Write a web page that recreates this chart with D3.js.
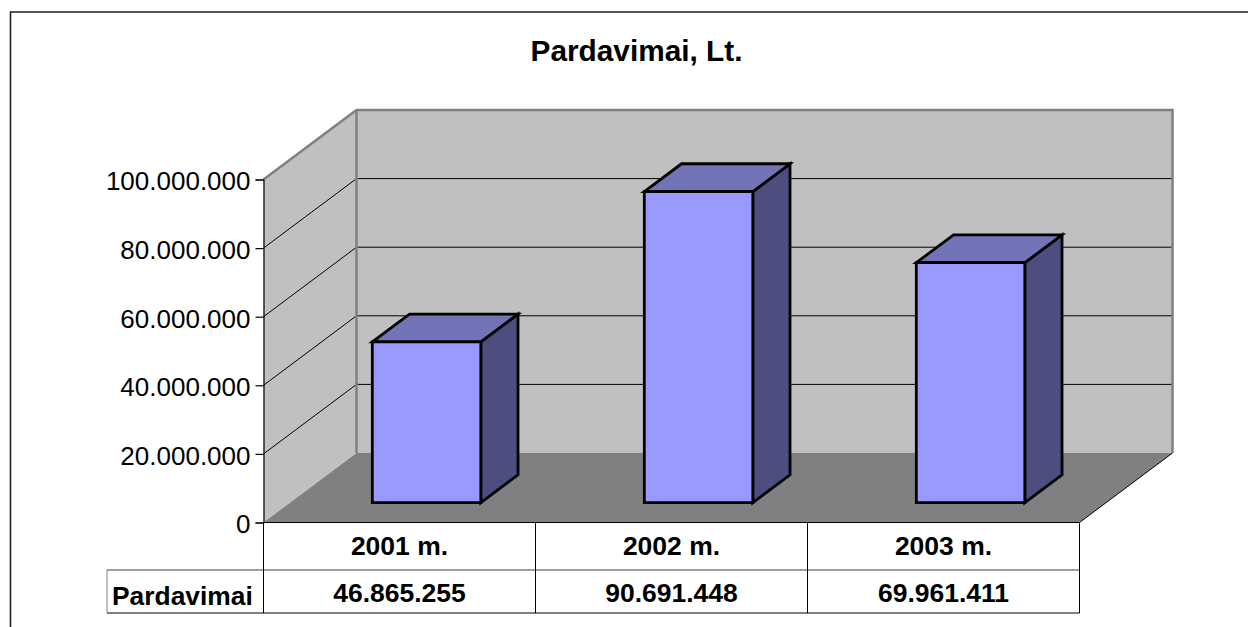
<!DOCTYPE html>
<html>
<head>
<meta charset="utf-8">
<script src="https://cdn.jsdelivr.net/npm/d3@7"></script>
<style>
  html, body { margin: 0; padding: 0; background: #fff; overflow: hidden; }
  text { font-family: "Liberation Sans", Arial, sans-serif; fill: #000; }
</style>
</head>
<body>
<svg id="chart"></svg>
<script>
const chartTitle = "Pardavimai, Lt.";
const seriesName = "Pardavimai";
const categories = ["2001 m.", "2002 m.", "2003 m."];
const sales = [46865255, 90691448, 69961411];
const tickValues = [0, 20000000, 40000000, 60000000, 80000000, 100000000];

const width = 1248;
const height = 627;

const svg = d3.select("#chart")
    .attr("width", width)
    .attr("height", height)
    .attr("viewBox", [0, 0, width, height])
    .style("display", "block");

// same number style as the picture: dots between thousands
const fmt = d3.formatLocale({ decimal: ",", thousands: ".", grouping: [3], currency: ["", ""] }).format(",d");

// outer frame, only left and top are visible in the crop
svg.append("path")
    .attr("d", `M10.5,${height + 2}V12H${width + 2}`)
    .attr("fill", "none")
    .attr("stroke", "#222")
    .attr("stroke-width", 1.6);

svg.append("text")
    .attr("x", 636.5)
    .attr("y", 61)
    .attr("text-anchor", "middle")
    .style("font-size", "29.8px")
    .style("font-weight", "bold")
    .text(chartTitle);

const x = d3.scaleBand().domain(categories).range([263.5, 1079.5]);
const y = d3.scaleLinear().domain([0, 100000000]).range([522.5, 179.5]);

// oblique depth of the 3d box, 0 = front edge and 1 = back wall
const depthX = 93;
const depthY = -69.5;
const at = (px, py, d) => [px + depthX * d, py + depthY * d];
const poly = pts => "M" + pts.map(p => p.join(",")).join("L") + "Z";

const x0 = x.range()[0];
const x1 = x.range()[1];
const yTop = y.range()[1];
const yBot = y.range()[0];

// side wall
svg.append("path")
    .attr("d", poly([at(x0, yBot, 0), at(x0, yTop, 0), at(x0, yTop, 1), at(x0, yBot, 1)]))
    .attr("fill", "#c0c0c0");

// back wall
svg.append("path")
    .attr("d", poly([at(x0, yBot, 1), at(x0, yTop, 1), at(x1, yTop, 1), at(x1, yBot, 1)]))
    .attr("fill", "#c0c0c0");

// floor
svg.append("path")
    .attr("d", poly([at(x0, yBot, 0), at(x0, yBot, 1), at(x1, yBot, 1), at(x1, yBot, 0)]))
    .attr("fill", "#808080");

// gridlines on the side wall and back wall
const grid = svg.append("g").attr("fill", "none").attr("stroke", "#000").attr("stroke-width", 1);
grid.selectAll("path")
    .data(tickValues.filter(d => d > 0))
    .join("path")
    .attr("d", d => d3.line()([at(x0, y(d), 0), at(x0, y(d), 1), at(x1, y(d), 1)]));

// wall outlines in grey
svg.append("path")
    .attr("d", d3.line()([at(x0, yTop, 0), at(x0, yTop, 1), at(x1, yTop, 1), at(x1, yBot, 1)]))
    .attr("fill", "none")
    .attr("stroke", "#808080")
    .attr("stroke-width", 2.5);
svg.append("path")
    .attr("d", d3.line()([at(x0, yTop, 1), at(x0, yBot, 1)]))
    .attr("fill", "none")
    .attr("stroke", "#808080")
    .attr("stroke-width", 2.5);

// floor front-right diagonal
svg.append("path")
    .attr("d", d3.line()([at(x1, yBot, 0), at(x1, yBot, 1)]))
    .attr("stroke", "#000")
    .attr("stroke-width", 1);

// bars
const barWidth = 108.5;
const barFront = 20 / 70;
const barBack = 48 / 70;
const rows = categories.map((c, i) => ({ cat: c, value: sales[i] }));
const bars = svg.selectAll("g.bar")
    .data(rows)
    .join("g")
    .attr("class", "bar")
    .attr("stroke", "#000")
    .attr("stroke-width", 2.8)
    .attr("stroke-linejoin", "miter");

const barLeft = d => x(d.cat) + (x.bandwidth() - barWidth) / 2 + 0.5;

bars.append("path")
    .attr("fill", "#4d4d80")
    .attr("d", d => {
        const r = barLeft(d) + barWidth;
        return poly([at(r, yBot, barFront), at(r, y(d.value), barFront), at(r, y(d.value), barBack), at(r, yBot, barBack)]);
    });
bars.append("path")
    .attr("fill", "#7373b8")
    .attr("d", d => {
        const l = barLeft(d), r = l + barWidth, t = y(d.value);
        return poly([at(l, t, barFront), at(l, t, barBack), at(r, t, barBack), at(r, t, barFront)]);
    });
bars.append("path")
    .attr("fill", "#9999ff")
    .attr("d", d => {
        const l = barLeft(d), r = l + barWidth, t = y(d.value);
        return poly([at(l, yBot, barFront), at(l, t, barFront), at(r, t, barFront), at(r, yBot, barFront)]);
    });

// value axis
const axis = svg.append("g")
    .attr("transform", `translate(${x0},0)`)
    .call(d3.axisLeft(y).tickValues(tickValues).tickFormat(fmt).tickSize(8).tickPadding(5));
axis.selectAll("path,line").attr("stroke", "#000").attr("stroke-width", 1.2);
axis.selectAll("text").style("font-size", "26px").attr("fill", "#000").attr("dy", "0.4em");

// data table under the plot
const rowTop = 522.5;
const rowMid = 570;
const rowBot = 613;
const tableLeft = 107;

const table = svg.append("g").attr("fill", "none");
table.append("path")
    .attr("d", `M${x0},${rowTop}H${x1}M${tableLeft},${rowBot}H${x1}`)
    .attr("stroke", "#000").attr("stroke-width", 1.2);
table.append("path")
    .attr("d", `M${tableLeft},${rowMid}H${x1}`)
    .attr("stroke", "#808080").attr("stroke-width", 1.6);
table.selectAll("path.v")
    .data([x0, ...categories.map(c => x(c) + x.bandwidth())])
    .join("path")
    .attr("class", "v")
    .attr("d", d => `M${d},${rowTop}V${rowBot}`)
    .attr("stroke", "#000").attr("stroke-width", 1);
table.append("path")
    .attr("d", `M${tableLeft},${rowMid}V${rowBot}`)
    .attr("stroke", "#808080").attr("stroke-width", 1);

const cellText = (sel, yPos) => sel
    .attr("x", d => x(d.cat) + x.bandwidth() / 2)
    .attr("y", yPos)
    .attr("text-anchor", "middle")
    .style("font-size", "26.5px")
    .style("font-weight", "bold");

svg.append("g").selectAll("text").data(rows).join("text")
    .call(cellText, 555).text(d => d.cat);
svg.append("g").selectAll("text").data(rows).join("text")
    .call(cellText, 602).text(d => fmt(d.value));
svg.append("text")
    .attr("x", 112)
    .attr("y", 605)
    .style("font-size", "26.4px")
    .style("font-weight", "bold")
    .text(seriesName);
</script>
</body>
</html>
